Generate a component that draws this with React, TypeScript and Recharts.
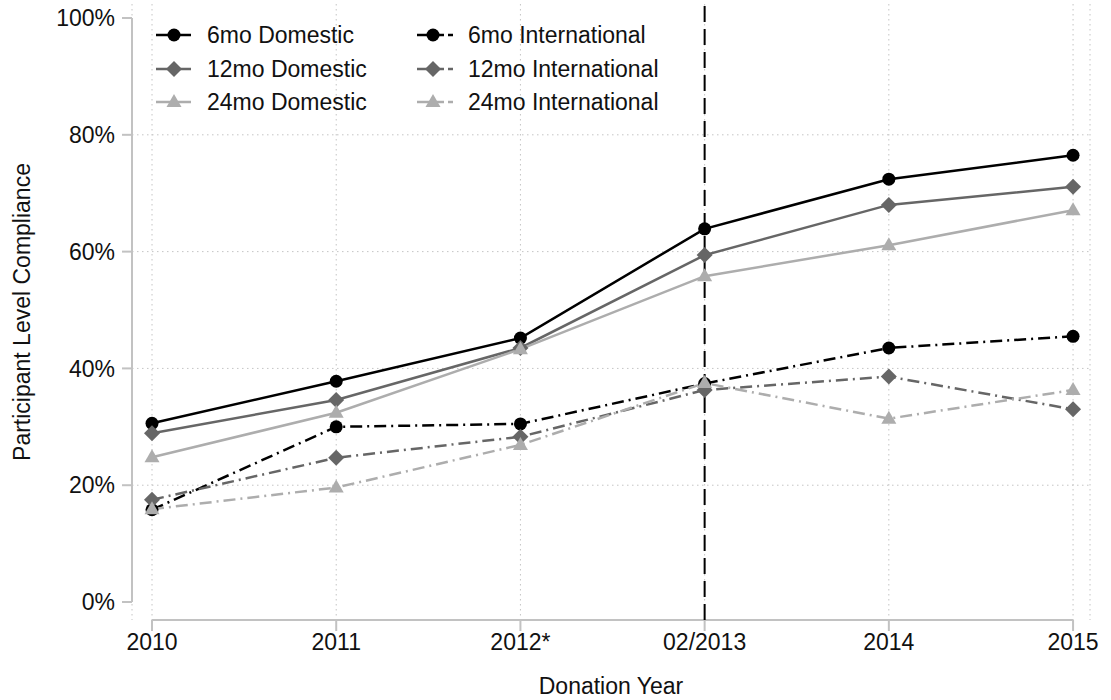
import { LineChart, Line, XAxis, YAxis, CartesianGrid, ReferenceLine, Legend } from 'recharts';

const years = ['2010', '2011', '2012*', '02/2013', '2014', '2015'];
const dom6 = [30.6, 37.8, 45.2, 63.9, 72.4, 76.5];
const dom12 = [28.9, 34.6, 43.5, 59.4, 68.0, 71.1];
const dom24 = [24.8, 32.4, 43.3, 55.8, 61.1, 67.1];
const intl6 = [15.8, 30.0, 30.5, 37.4, 43.5, 45.5];
const intl12 = [17.5, 24.7, 28.3, 36.3, 38.6, 33.0];
const intl24 = [15.9, 19.6, 26.9, 37.5, 31.4, 36.3];
const yTicks = [0, 20, 40, 60, 80, 100];
const gridTicks = [20, 40, 60, 80];
const policyYear = 3;

const X_MIN = -0.1086;
const X_MAX = 5.092;
const Y_MIN = -3.08;
const Y_MAX = 102.4;

const FONT = '"Liberation Sans", Arial, Helvetica, sans-serif';
const AXIS = '#c2c2c2';
const DASHDOT = '12 5 2 5';

const data = years.map((y, i) => ({
  x: i,
  dom6: dom6[i],
  dom12: dom12[i],
  dom24: dom24[i],
  intl6: intl6[i],
  intl12: intl12[i],
  intl24: intl24[i],
}));

type Shape = 'circle' | 'diamond' | 'triangle';

const series = [
  { key: 'dom6', name: '6mo Domestic', color: '#000000', shape: 'circle' as Shape, dash: undefined },
  { key: 'dom12', name: '12mo Domestic', color: '#666666', shape: 'diamond' as Shape, dash: undefined },
  { key: 'dom24', name: '24mo Domestic', color: '#adadad', shape: 'triangle' as Shape, dash: undefined },
  { key: 'intl6', name: '6mo International', color: '#000000', shape: 'circle' as Shape, dash: DASHDOT },
  { key: 'intl12', name: '12mo International', color: '#666666', shape: 'diamond' as Shape, dash: DASHDOT },
  { key: 'intl24', name: '24mo International', color: '#adadad', shape: 'triangle' as Shape, dash: DASHDOT },
];

function marker(shape: Shape, cx: number, cy: number, color: string, key?: string) {
  if (shape === 'circle') return <circle key={key} cx={cx} cy={cy} r={6.5} fill={color} />;
  if (shape === 'diamond')
    return <polygon key={key} points={`${cx},${cy - 8} ${cx + 8},${cy} ${cx},${cy + 8} ${cx - 8},${cy}`} fill={color} />;
  return <polygon key={key} points={`${cx},${cy - 8} ${cx + 7.5},${cy + 5} ${cx - 7.5},${cy + 5}`} fill={color} />;
}

function LegendBox() {
  const rows = [35, 69, 102];
  return (
    <svg width={700} height={130} style={{ display: 'block' }}>
      {series.map((s, i) => {
        const col = i < 3 ? 0 : 1;
        const y = rows[i % 3];
        if (col === 0) {
          return (
            <g key={s.key}>
              <line x1={156} x2={191} y1={y} y2={y} stroke={s.color} strokeWidth={2.5} />
              {marker(s.shape, 174, y, s.color)}
              <text x={207} y={y} dominantBaseline="central" fontSize={23} fontFamily={FONT} fill="#111">{s.name}</text>
            </g>
          );
        }
        return (
          <g key={s.key}>
            <line x1={417} x2={444} y1={y} y2={y} stroke={s.color} strokeWidth={2.5} />
            <line x1={448} x2={453} y1={y} y2={y} stroke={s.color} strokeWidth={2.5} />
            {marker(s.shape, 433, y, s.color)}
            <text x={468} y={y} dominantBaseline="central" fontSize={23} fontFamily={FONT} fill="#111">{s.name}</text>
          </g>
        );
      })}
    </svg>
  );
}

export default function App() {
  const tickStyle = { fontSize: 23, fontFamily: FONT, fill: '#111' };
  return (
    <div style={{ position: 'absolute', left: 0, top: 0, width: 1111, height: 700, background: '#fff' }}>
      <LineChart width={1111} height={700} data={data} margin={{ top: 4, right: 21, bottom: 0, left: 0 }}>
        <CartesianGrid horizontal={false} stroke="#c4c4c4" strokeDasharray="1.5 3.5" />
        <XAxis
          dataKey="x"
          type="number"
          domain={[X_MIN, X_MAX]}
          allowDataOverflow
          ticks={[0, 1, 2, 3, 4, 5]}
          interval={0}
          tickFormatter={(v: number) => years[v]}
          axisLine={false}
          tickLine={{ stroke: AXIS, strokeWidth: 2 }}
          tickSize={11}
          tickMargin={3}
          tick={tickStyle}
          height={80}
          label={{ value: 'Donation Year', position: 'insideBottom', offset: 6, style: { fontSize: 23, fontFamily: FONT, fill: '#111' } }}
        />
        <YAxis
          type="number"
          domain={[Y_MIN, Y_MAX]}
          allowDataOverflow
          ticks={yTicks}
          interval={0}
          tickFormatter={(v: number) => `${v}%`}
          axisLine={false}
          tickLine={{ stroke: AXIS, strokeWidth: 2 }}
          tickSize={10}
          tickMargin={7}
          tick={tickStyle}
          width={132}
          label={{
            value: 'Participant Level Compliance',
            angle: -90,
            position: 'insideLeft',
            offset: 22,
            style: { textAnchor: 'middle', fontSize: 23, fontFamily: FONT, fill: '#111' },
          }}
        />
        {gridTicks.map(v => (
          <ReferenceLine key={v} y={v} stroke="#c4c4c4" strokeDasharray="1.5 3.5" />
        ))}
        <ReferenceLine segment={[{ x: X_MIN, y: 0 }, { x: X_MIN, y: 100 }]} stroke={AXIS} strokeWidth={2} ifOverflow="visible" />
        <ReferenceLine segment={[{ x: 0, y: Y_MIN }, { x: 5, y: Y_MIN }]} stroke={AXIS} strokeWidth={2} ifOverflow="visible" />
        <ReferenceLine x={policyYear} stroke="#000" strokeWidth={2} strokeDasharray="16 7" />
        {series.map(s => (
          <Line
            key={s.key}
            dataKey={s.key}
            name={s.name}
            type="linear"
            stroke={s.color}
            strokeWidth={2.5}
            strokeDasharray={s.dash}
            isAnimationActive={false}
            dot={(p: any) => marker(s.shape, p.cx, p.cy, s.color, `${s.key}-${p.index}`)}
            activeDot={false}
          />
        ))}
        <Legend
          layout="vertical"
          align="center"
          verticalAlign="middle"
          content={() => <LegendBox />}
          wrapperStyle={{ top: 0, left: 0, width: 700, height: 130 }}
        />
      </LineChart>
    </div>
  );
}
